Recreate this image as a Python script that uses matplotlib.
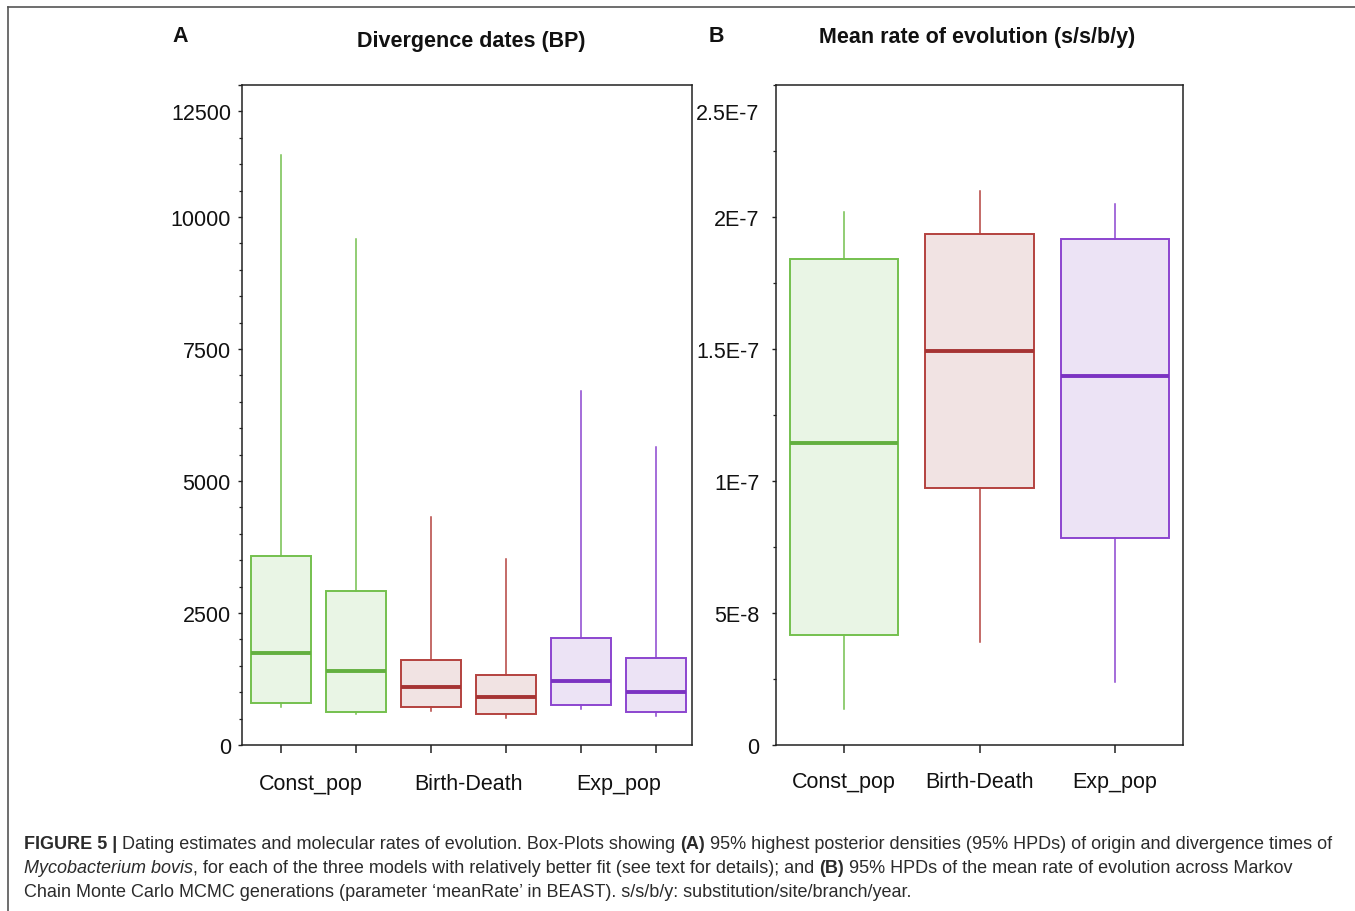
import matplotlib
matplotlib.use("Agg")
import matplotlib.pyplot as plt
from matplotlib.lines import Line2D
from matplotlib.ticker import MultipleLocator

plt.rcParams['font.family'] = ['Liberation Sans', 'DejaVu Sans']

# ---- data ----
# panel A: divergence dates (BP), two estimates per model
a_labels = ['Const_pop', 'Birth-Death', 'Exp_pop']
a_whislo = [720, 590, 645, 520, 675, 550]
a_q1 = [790, 625, 715, 595, 750, 630]
a_med = [1740, 1410, 1105, 915, 1220, 1005]
a_q3 = [3575, 2910, 1610, 1325, 2020, 1640]
a_whishi = [11180, 9575, 4310, 3515, 6710, 5640]
a_ticks = [0, 2500, 5000, 7500, 10000, 12000, 12500]
a_ticklabels = ['0', '2500', '5000', '7500', '10000', '12500', '']

# panel B: mean rate of evolution (s/s/b/y)
b_labels = ['Const_pop', 'Birth-Death', 'Exp_pop']
b_whislo = [1.36e-8, 3.91e-8, 2.37e-8]
b_q1 = [4.17e-8, 9.73e-8, 7.85e-8]
b_med = [1.145e-7, 1.494e-7, 1.399e-7]
b_q3 = [1.840e-7, 1.936e-7, 1.917e-7]
b_whishi = [2.02e-7, 2.10e-7, 2.05e-7]
b_ticks = [0, 5e-8, 1e-7, 1.5e-7, 2e-7, 2.4e-7]
b_ticklabels = ['0', '5E-8', '1E-7', '1.5E-7', '2E-7', '2.5E-7']

edge = {'g': '#74c04e', 'r': '#b4423f', 'p': '#8c45cf'}
fill = {'g': '#e9f5e5', 'r': '#f1e3e3', 'p': '#ece3f5'}
medc = {'g': '#63b040', 'r': '#a63434', 'p': '#7b33c2'}
a_cols = ['g', 'g', 'r', 'r', 'p', 'p']
b_cols = ['g', 'r', 'p']

W, H = 1355, 912
fig = plt.figure(figsize=(W / 100, H / 100), dpi=100)
fig.patch.set_facecolor('white')


def fx(px):
    return px / W


def fy(py):
    return 1 - py / H


def draw_boxes(ax, pos, lo, q1, med, q3, hi, cols, width):
    stats = []
    for i in range(len(pos)):
        stats.append(dict(whislo=lo[i], q1=q1[i], med=med[i], q3=q3[i],
                          whishi=hi[i], fliers=[]))
    bp = ax.bxp(stats, positions=pos, widths=width, patch_artist=True,
                showcaps=False, showfliers=False, manage_ticks=False)
    for i, c in enumerate(cols):
        bp['boxes'][i].set(facecolor=fill[c], edgecolor=edge[c], linewidth=1.4)
        bp['medians'][i].set(color=medc[c], linewidth=2.8, solid_capstyle='butt')
        bp['whiskers'][2 * i].set(color=edge[c], linewidth=1.1)
        bp['whiskers'][2 * i + 1].set(color=edge[c], linewidth=1.1)


def style_axes(ax):
    for s in ax.spines.values():
        s.set_color('#222222')
        s.set_linewidth(1.1)
    ax.tick_params(axis='both', which='both', colors='#222222',
                   labelcolor='#111111', labelsize=15.5)
    ax.tick_params(axis='y', which='major', length=3, width=1.0)
    ax.tick_params(axis='y', which='minor', length=2, width=0.9)
    ax.tick_params(axis='x', which='major', length=6, width=1.1)
    ax.tick_params(axis='x', which='minor', length=0, pad=20)


# ---- panel A ----
axA = fig.add_axes([fx(242), fy(746), fx(692 - 242), (746 - 86) / H])
posA = [1, 2, 3, 4, 5, 6]
draw_boxes(axA, posA, a_whislo, a_q1, a_med, a_q3, a_whishi, a_cols, 0.79)
axA.set_xlim(0.48, 6.48)
axA.set_ylim(0, 12500)
axA.set_xticks(posA)
axA.set_xticklabels([])
axA.set_xticks([1.4, 3.5, 5.5], minor=True)
axA.set_xticklabels(a_labels, minor=True)
axA.set_yticks(a_ticks)
axA.set_yticklabels(a_ticklabels)
axA.yaxis.set_minor_locator(MultipleLocator(500))
style_axes(axA)
axA.tick_params(axis='y', which='major', pad=5)

# ---- panel B ----
axB = fig.add_axes([fx(776), fy(746), fx(1183 - 776), (746 - 86) / H])
posB = [1, 2, 3]
draw_boxes(axB, posB, b_whislo, b_q1, b_med, b_q3, b_whishi, b_cols, 0.8)
axB.set_xlim(0.5, 3.5)
axB.set_ylim(0, 2.5e-7)
axB.set_xticks(posB)
axB.set_xticklabels(b_labels)
axB.set_yticks(b_ticks)
axB.set_yticklabels(b_ticklabels)
axB.yaxis.set_minor_locator(MultipleLocator(2.5e-8))
style_axes(axB)
axB.tick_params(axis='x', which='major', pad=13)
axB.tick_params(axis='y', which='major', pad=9)
axB.yaxis.get_major_ticks()[-1].tick1line.set_visible(False)

# ---- panel headings ----
fig.text(fx(180), fy(37), 'A', fontsize=15.5, fontweight='bold',
         ha='center', va='center', color='#111111')
fig.text(fx(471), fy(41), 'Divergence dates (BP)', fontsize=15.5,
         fontweight='bold', ha='center', va='center', color='#111111')
fig.text(fx(716), fy(36), 'B', fontsize=15.5, fontweight='bold',
         ha='center', va='center', color='#111111')
fig.text(fx(977), fy(38), 'Mean rate of evolution (s/s/b/y)', fontsize=15.5,
         fontweight='bold', ha='center', va='center', color='#111111')

# ---- frame (top and left rules) ----
fig.add_artist(Line2D([fx(8), 1], [fy(8), fy(8)], transform=fig.transFigure,
                      color='#555555', linewidth=1.2))
fig.add_artist(Line2D([fx(8), fx(8)], [fy(8), 0], transform=fig.transFigure,
                      color='#555555', linewidth=1.2))

# ---- caption, written run by run ----
caption = [
    [('FIGURE 5 | ', 'bold', 'normal'),
     ('Dating estimates and molecular rates of evolution. Box-Plots showing ', 'normal', 'normal'),
     ('(A)', 'bold', 'normal'),
     (' 95% highest posterior densities (95% HPDs) of origin and divergence times of', 'normal', 'normal')],
    [('Mycobacterium bovis', 'normal', 'italic'),
     (', for each of the three models with relatively better fit (see text for details); and ', 'normal', 'normal'),
     ('(B)', 'bold', 'normal'),
     (' 95% HPDs of the mean rate of evolution across Markov', 'normal', 'normal')],
    [('Chain Monte Carlo MCMC generations (parameter \u2018meanRate\u2019 in BEAST). '
      's/s/b/y: substitution/site/branch/year.', 'normal', 'normal')],
]
baselines = [849, 873, 897]
renderer = fig.canvas.get_renderer()
cap_size = 13.0
for line, base in zip(caption, baselines):
    x = fx(24)
    for txt, wt, st in line:
        t = fig.text(x, fy(base), txt, fontsize=cap_size, fontweight=wt,
                     fontstyle=st, color='#2b2b2b', ha='left', va='baseline')
        bb = t.get_window_extent(renderer)
        x = bb.x1 / W

fig.savefig('out.png', dpi=100)
